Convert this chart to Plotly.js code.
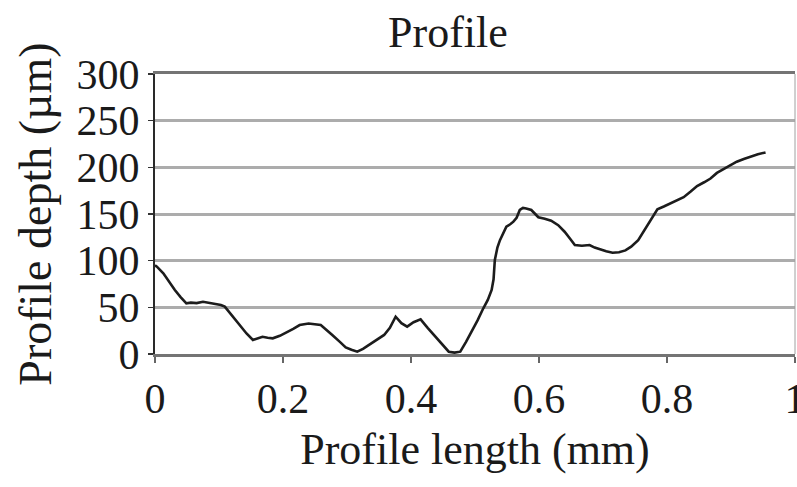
<!DOCTYPE html>
<html>
<head>
<meta charset="utf-8">
<script src="https://cdn.plot.ly/plotly-3.0.1.min.js"></script>
<style>html,body{margin:0;padding:0;background:#fff;}#chart{width:797px;height:487px;}</style>
</head>
<body>
<div id="chart"></div>
<script>
// Profile length (mm)
const lengthMm = [0, 0.003, 0.013, 0.022, 0.031, 0.040, 0.049, 0.056, 0.065, 0.075, 0.085, 0.096, 0.103, 0.109, 0.120, 0.132, 0.143, 0.153, 0.160, 0.168, 0.176, 0.184, 0.195, 0.205, 0.216, 0.226, 0.240, 0.259, 0.268, 0.277, 0.288, 0.298, 0.307, 0.316, 0.325, 0.334, 0.346, 0.358, 0.367, 0.376, 0.385, 0.394, 0.404, 0.415, 0.426, 0.438, 0.449, 0.459, 0.468, 0.477, 0.486, 0.495, 0.504, 0.513, 0.520, 0.526, 0.529, 0.531, 0.535, 0.539, 0.544, 0.549, 0.555, 0.560, 0.565, 0.570, 0.575, 0.580, 0.588, 0.594, 0.599, 0.609, 0.619, 0.630, 0.640, 0.648, 0.656, 0.667, 0.679, 0.687, 0.695, 0.705, 0.715, 0.725, 0.735, 0.744, 0.755, 0.765, 0.775, 0.785, 0.795, 0.805, 0.816, 0.826, 0.837, 0.847, 0.858, 0.868, 0.878, 0.889, 0.899, 0.909, 0.920, 0.930, 0.942, 0.954];
// Profile depth (µm)
const depthUm = [95, 93.6, 86.5, 77, 68.6, 61, 54.3, 55, 54.5, 56, 55, 53.6, 52.5, 50.7, 41, 31, 22, 15, 16.5, 18.5, 17.5, 16.8, 19.5, 22.9, 27, 31, 32.6, 31, 26, 20.4, 13.5, 7.1, 4.5, 2.5, 5.5, 9.6, 14.5, 20.4, 28, 40, 33, 29.3, 34, 37.1, 28, 18.5, 9.5, 2.5, 1.5, 2.5, 13, 23.9, 36, 49, 58, 68.6, 80, 100.7, 114, 122, 130, 136.4, 139, 141.8, 146, 154.3, 156.5, 156, 154.3, 150, 146.5, 145, 142.8, 138, 131, 124, 116.8, 116, 116.8, 114, 112, 110, 108.5, 109, 111, 115, 122, 132.9, 143, 155, 158, 161, 165, 168, 174, 180, 184, 188, 194, 198, 202.5, 206, 209, 211.4, 214, 216];
const xTickVals = [0, 0.2, 0.4, 0.6, 0.8, 1];
const xTickText = ['0', '0.2', '0.4', '0.6', '0.8', '1'];
const yTickVals = [0, 50, 100, 150, 200, 250, 300];

const FONT = '"Liberation Serif", "Times New Roman", serif';

const trace = {
  x: lengthMm,
  y: depthUm,
  type: 'scatter',
  mode: 'lines',
  line: {color: '#1c1c1c', width: 2.6},
  showlegend: false,
  hoverinfo: 'skip'
};

const layout = {
  width: 797,
  height: 487,
  margin: {l: 155, r: 2, t: 74, b: 133},
  paper_bgcolor: '#ffffff',
  plot_bgcolor: '#ffffff',
  font: {family: FONT, color: '#1a1a1a', size: 42},
  title: {
    text: 'Profile',
    font: {family: FONT, size: 44, color: '#1a1a1a'},
    x: 0.562, xref: 'container', xanchor: 'center',
    y: 0.936, yref: 'container', yanchor: 'middle'
  },
  xaxis: {
    range: [0, 1],
    tickmode: 'array',
    tickvals: xTickVals,
    ticktext: xTickText,
    ticklabeloverflow: 'allow',
    ticks: 'outside',
    ticklen: 6,
    tickwidth: 1.5,
    tickcolor: '#666',
    showgrid: false,
    zeroline: false,
    showline: true,
    linecolor: '#747474',
    linewidth: 3,
    mirror: true,
    tickfont: {family: FONT, size: 42, color: '#1a1a1a'},
    title: {text: 'Profile length (mm)', font: {family: FONT, size: 44, color: '#1a1a1a'}, standoff: 12},
    fixedrange: true
  },
  yaxis: {
    range: [0, 300],
    tickmode: 'array',
    tickvals: yTickVals,
    ticks: 'outside',
    ticklen: 5,
    tickwidth: 1.5,
    tickcolor: '#333',
    showgrid: true,
    gridcolor: '#acacac',
    gridwidth: 3,
    zeroline: false,
    showline: true,
    linecolor: '#2a2a2a',
    linewidth: 2,
    tickfont: {family: FONT, size: 42, color: '#1a1a1a'},
    title: {text: 'Profile depth (µm)', font: {family: FONT, size: 46, color: '#1a1a1a'}, standoff: 10},
    fixedrange: true
  },
  shapes: [{
    type: 'line', xref: 'paper', yref: 'paper',
    x0: 1, x1: 1, y0: 0, y1: 1,
    line: {color: '#a0a0a0', width: 1}
  }]
};

Plotly.newPlot('chart', [trace], layout, {staticPlot: true, displayModeBar: false});
</script>
</body>
</html>
